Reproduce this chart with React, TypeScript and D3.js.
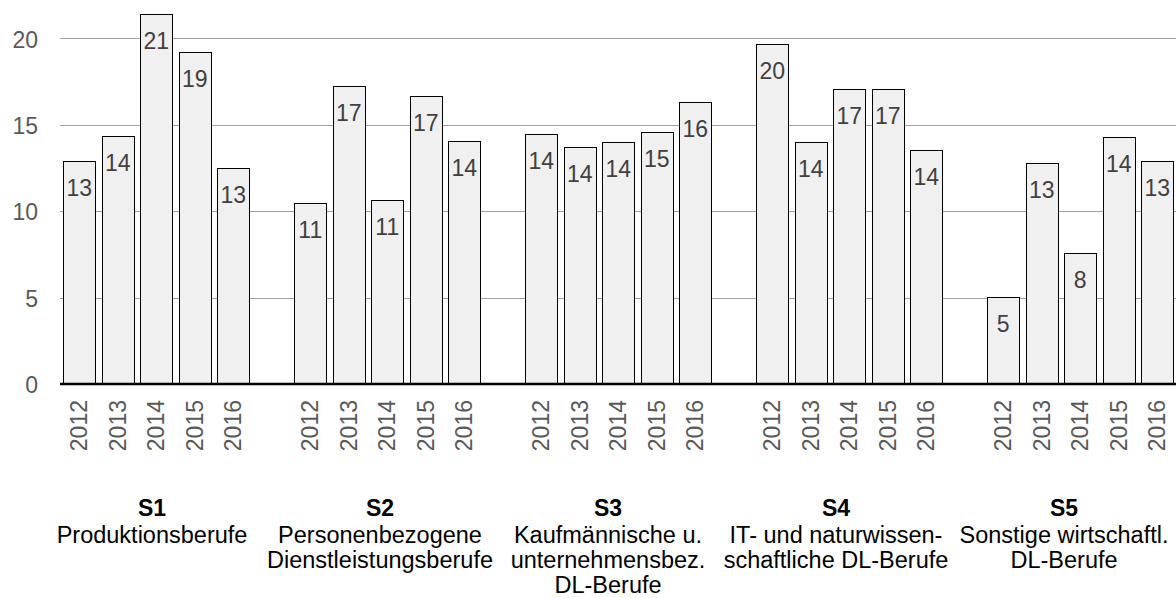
import React, { useEffect, useRef } from 'react';
import * as d3 from 'd3';

// sector codes, names (wrapped as in the original) and years
const groups = ['S1', 'S2', 'S3', 'S4', 'S5'];
const groupNames: string[][] = [
    ['Produktionsberufe'],
    ['Personenbezogene', 'Dienstleistungsberufe'],
    ['Kaufmännische u.', 'unternehmensbez.', 'DL-Berufe'],
    ['IT- und naturwissen-', 'schaftliche DL-Berufe'],
    ['Sonstige wirtschaftl.', 'DL-Berufe'],
];
const years = ['2012', '2013', '2014', '2015', '2016'];

// values per sector, one per year
const s1Values = [12.93, 14.37, 21.39, 19.2, 12.52];
const s2Values = [10.5, 17.27, 10.64, 16.69, 14.05];
const s3Values = [14.45, 13.72, 14.0, 14.58, 16.32];
const s4Values = [19.67, 14.0, 17.09, 17.09, 13.54];
const s5Values = [5.01, 12.77, 7.59, 14.28, 12.9];
const seriesValues = [s1Values, s2Values, s3Values, s4Values, s5Values];

const yTicks = [0, 5, 10, 15, 20];

const FONT = '"Liberation Sans", Arial, sans-serif';

const App: React.FC = () => {
    const svgRef = useRef<SVGSVGElement>(null);

    useEffect(() => {
        if (!svgRef.current) return;
        document.body.style.margin = '0';

        const svg = d3.select(svgRef.current);
        svg.selectAll('*').remove();

        const width = 1176;
        const plotLeft = 60;
        const plotRight = 1176;

        // one slot per bar, plus an empty slot between sectors
        const slots: string[] = [];
        groups.forEach((g, gi) => {
            years.forEach(y => slots.push(`${g}-${y}`));
            if (gi < groups.length - 1) slots.push(`gap-${gi}`);
        });

        const data = groups.flatMap((g, gi) =>
            years.map((y, yi) => ({ key: `${g}-${y}`, year: y, value: seriesValues[gi][yi] }))
        );

        const x = d3.scaleBand()
            .domain(slots)
            .range([plotLeft, plotRight + 0.5])
            .paddingInner(0.16)
            .paddingOuter(0.08);

        const y = d3.scaleLinear()
            .domain([0, 20])
            .range([384, 38.4]);

        // grid lines
        svg.append('g')
            .selectAll('line')
            .data(yTicks.filter(t => t > 0))
            .join('line')
            .attr('x1', plotLeft)
            .attr('x2', plotRight)
            .attr('y1', d => Math.round(y(d)) + 0.5)
            .attr('y2', d => Math.round(y(d)) + 0.5)
            .attr('stroke', '#a0a0a0')
            .attr('stroke-width', 1);

        // y tick labels
        svg.append('g')
            .selectAll('text')
            .data(yTicks)
            .join('text')
            .attr('x', 38)
            .attr('y', d => y(d))
            .attr('dy', '0.4em')
            .attr('text-anchor', 'end')
            .attr('font-family', FONT)
            .attr('font-size', '23px')
            .attr('fill', '#595959')
            .text(d => d);

        // bars
        svg.append('g')
            .selectAll('rect')
            .data(data)
            .join('rect')
            .attr('x', d => Math.round(x(d.key)!) + 0.5)
            .attr('y', d => Math.round(y(d.value)) + 0.5)
            .attr('width', Math.round(x.bandwidth()))
            .attr('height', d => Math.round(y(0)) - Math.round(y(d.value)))
            .attr('fill', '#f0f0f0')
            .attr('stroke', '#000')
            .attr('stroke-width', 1);

        // value labels inside bar tops
        svg.append('g')
            .selectAll('text')
            .data(data)
            .join('text')
            .attr('x', d => x(d.key)! + x.bandwidth() / 2)
            .attr('y', d => y(d.value) + 35)
            .attr('text-anchor', 'middle')
            .attr('font-family', FONT)
            .attr('font-size', '23px')
            .attr('fill', '#404040')
            .text(d => Math.round(d.value));

        // baseline
        svg.append('line')
            .attr('x1', plotLeft)
            .attr('x2', plotRight)
            .attr('y1', y(0))
            .attr('y2', y(0))
            .attr('stroke', '#000')
            .attr('stroke-width', 2.5);

        // rotated year labels
        svg.append('g')
            .selectAll('text')
            .data(data)
            .join('text')
            .attr('transform', d => `translate(${x(d.key)! + x.bandwidth() / 2},400) rotate(-90)`)
            .attr('dy', '0.35em')
            .attr('text-anchor', 'end')
            .attr('font-family', FONT)
            .attr('font-size', '23px')
            .attr('fill', '#595959')
            .text(d => d.year);

        // sector labels, in equal columns
        const cols = d3.scaleBand()
            .domain(groups)
            .range([38, width + 2]);

        const labels = svg.append('g')
            .selectAll('g')
            .data(groups)
            .join('g')
            .attr('transform', d => `translate(${cols(d)! + cols.bandwidth() / 2},0)`)
            .attr('font-family', FONT)
            .attr('text-anchor', 'middle')
            .attr('fill', '#000');

        labels.append('text')
            .attr('y', 516)
            .attr('font-size', '23px')
            .attr('font-weight', 'bold')
            .text(d => d);

        labels.each(function (d, i) {
            d3.select(this)
                .selectAll('text.name')
                .data(groupNames[i])
                .join('text')
                .attr('class', 'name')
                .attr('y', (_, li) => 543 + li * 25)
                .attr('font-size', '23.5px')
                .text(t => t);
        });
    }, []);

    return <svg ref={svgRef} width={1176} height={598} style={{ display: 'block', background: '#fff' }} />;
};

export default App;
